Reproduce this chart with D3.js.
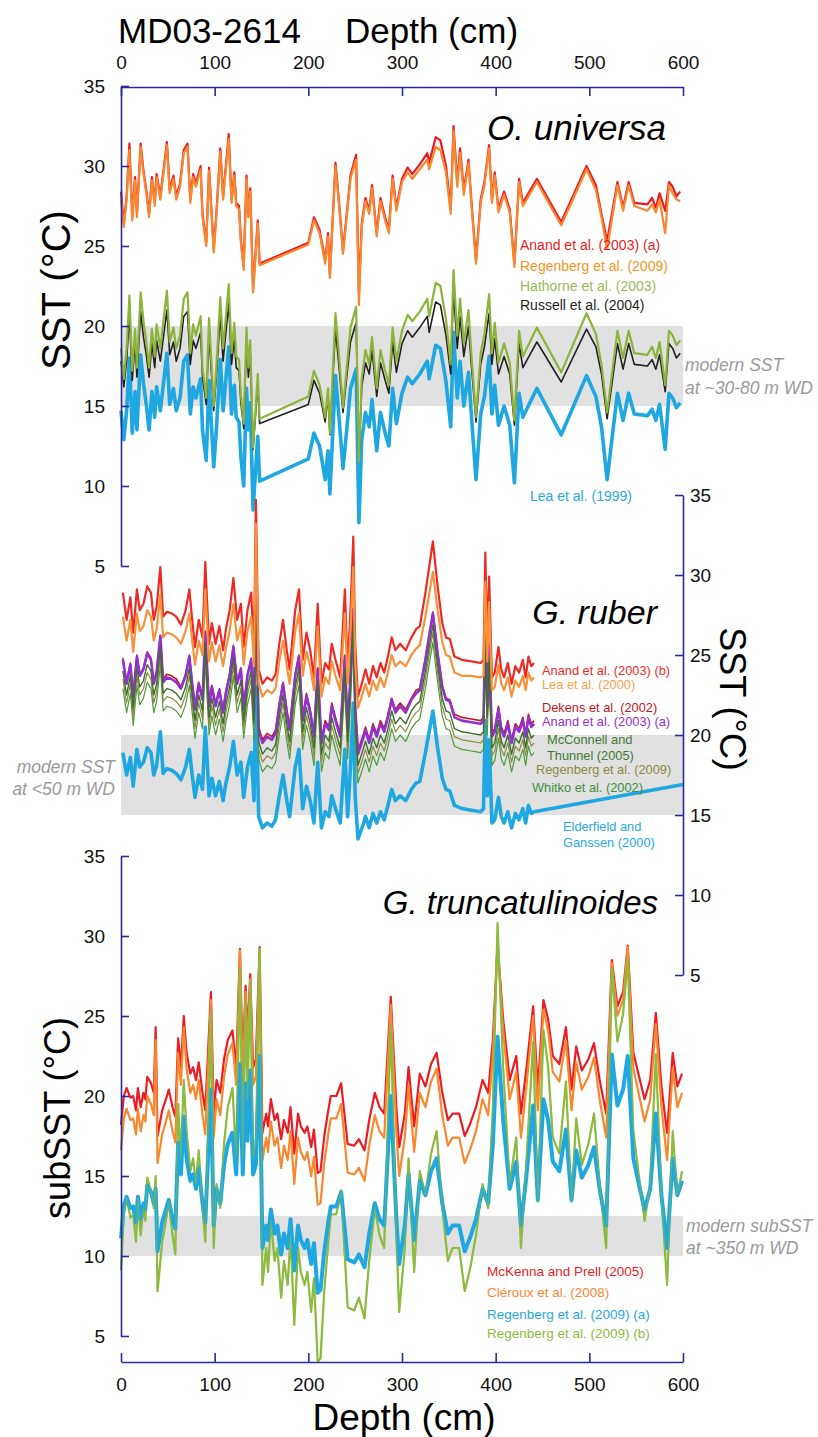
<!DOCTYPE html>
<html>
<head>
<meta charset="utf-8">
<script src="https://cdn.jsdelivr.net/npm/d3@7"></script>
<style>
  body { margin: 0; background: #fff; }
  svg { display: block; }
  text { font-family: "Liberation Sans", Arial, Helvetica, sans-serif; }
</style>
</head>
<body>
<svg id="chart" width="818" height="1437"></svg>
<script>
// ---------- Core MD03-2614: depth axis ----------
const depthTicks = [0, 100, 200, 300, 400, 500, 600];
const tempTicks = [5, 10, 15, 20, 25, 30, 35];

// ---------- O. universa (SST) ----------
const uniDepth = [0,3,6,9,12,15,17,21,24,27,30,33,36,38,42,49,52,56,59,63,67,71,74,77,80,85,87,91,94,99,102,106,109,115,118,121,123,126,128,131,134,136,138,141,146,148,200,206,212,218,221,223,229,233,237,241,245,251,254,257,261,265,268,273,277,282,286,290,294,300,306,311,319,327,329,336,341,347,352,355,359,362,366,371,374,379,384,388,393,396,399,403,409,415,420,425,429,444,470,497,507,513,519,530,536,542,548,562,567,571,575,581,585,589,593,597];
const uniAnand = [28.4,26.4,28.1,31.4,26.8,29.3,27.0,31.4,29.7,28.5,27.0,29.3,27.7,29.5,28.1,31.5,28.5,29.4,28.1,28.9,31.0,31.4,27.9,29.5,28.9,30.0,27.0,25.2,29.9,24.8,27.2,31.1,28.1,32.0,27.9,29.6,27.7,27.5,25.4,23.7,29.4,27.0,28.6,22.3,26.6,23.9,25.2,26.8,26.0,24.1,25.8,23.2,30.2,27.6,24.7,27.0,29.4,30.7,22.0,26.4,28.0,27.2,28.8,25.8,28.0,26.8,26.0,29.4,27.4,29.2,29.9,29.5,30.1,30.8,30.2,31.8,31.6,30.0,27.3,32.5,29.0,31.1,28.5,30.4,27.9,24.1,27.9,29.0,31.3,27.9,29.6,27.3,28.4,27.3,23.9,29.2,27.7,29.2,26.5,30.0,28.8,27.0,25.3,29.0,27.4,29.0,27.7,27.6,28.0,27.4,28.3,27.2,29.0,28.7,28.1,28.4];
const uniRegenberg = [27.9,26.2,27.9,31.0,26.6,29.1,26.8,31.2,29.5,28.3,26.8,29.1,27.5,29.3,27.9,31.3,28.3,29.2,27.9,28.7,30.8,31.2,27.7,29.3,28.7,29.8,26.8,25.0,29.7,24.6,27.0,30.9,27.9,31.7,27.7,29.4,27.5,27.3,25.2,23.5,29.2,26.8,28.4,22.1,26.4,23.8,25.1,26.6,25.8,23.9,25.6,23.0,30.0,27.4,24.5,26.8,29.2,30.4,21.3,26.2,27.8,27.0,28.6,25.6,27.8,26.6,25.8,29.2,27.2,29.0,29.6,29.2,29.8,30.4,29.8,31.2,31.0,29.6,27.0,32.2,28.7,30.8,28.2,30.2,27.7,23.9,27.7,28.8,31.1,27.7,29.4,27.1,28.2,27.1,23.7,29.0,27.5,29.0,26.3,29.8,28.5,26.8,24.8,28.8,27.2,28.8,27.5,27.2,27.6,27.1,27.9,25.8,28.8,28.3,27.9,27.8];
const uniHathorne = [18.6,16.7,18.6,21.9,17.2,19.8,17.4,22.1,20.3,19.0,17.4,19.8,18.1,20.1,18.6,22.2,19.0,19.9,18.6,19.4,21.7,22.1,18.3,20.1,19.4,20.6,17.4,15.5,20.5,15.0,17.6,21.8,18.6,22.6,18.3,20.2,18.1,17.9,15.7,13.9,19.9,17.4,19.1,12.4,17.0,14.2,15.6,17.2,16.3,14.3,16.1,13.3,20.8,18.0,14.9,17.4,19.9,21.2,11.5,16.7,18.5,17.6,19.3,16.1,18.5,17.2,16.3,19.9,17.8,19.7,20.7,20.3,20.9,21.7,20.6,22.7,22.5,20.4,17.6,23.5,19.4,21.7,18.9,21.0,18.3,14.3,18.3,19.5,22.0,18.3,20.2,17.7,18.9,17.7,14.1,19.7,18.1,19.9,17.1,20.8,19.5,17.6,14.6,19.7,18.0,19.7,18.3,18.2,18.7,18.0,19.0,16.3,19.7,19.4,18.8,19.1];
const uniRussell = [17.8,16.2,17.8,20.8,16.6,18.9,16.8,20.9,19.3,18.2,16.8,18.9,17.4,19.1,17.8,21.0,18.2,19.0,17.8,18.6,20.6,20.9,17.6,19.1,18.6,19.6,16.8,15.1,19.5,14.7,17.0,20.7,17.8,21.4,17.6,19.2,17.4,17.2,15.2,13.6,19.0,16.8,18.3,12.3,16.4,13.9,15.1,16.6,15.8,14.0,15.6,13.2,19.8,17.3,14.6,16.8,19.0,20.2,11.5,16.2,17.7,17.0,18.5,15.6,17.7,16.6,15.8,19.0,17.1,18.9,19.7,19.3,19.9,20.6,19.6,21.5,21.3,19.4,17.0,22.2,18.6,20.6,18.1,20.0,17.6,14.0,17.6,18.7,20.8,17.6,19.2,17.0,18.1,17.0,13.8,18.9,17.4,19.0,16.5,19.8,18.7,17.0,14.2,18.9,17.3,18.9,17.6,17.5,17.9,17.3,18.2,15.9,18.9,18.6,18.0,18.3];
const uniLea = [14.7,12.9,14.7,18.0,13.3,15.9,13.5,18.2,16.4,15.1,13.5,15.9,14.3,16.2,14.7,18.3,15.1,16.1,14.7,15.5,17.8,18.2,14.5,16.2,15.5,16.7,13.5,11.6,16.6,11.2,13.7,17.9,14.7,18.7,14.5,16.3,14.3,14.0,11.8,10.0,16.1,13.5,15.2,8.5,13.1,10.3,11.7,13.3,12.5,10.4,12.2,9.5,16.9,14.1,11.1,13.5,16.1,17.3,7.7,12.9,14.6,13.7,15.4,12.2,14.6,13.3,12.5,16.1,13.9,15.8,16.8,16.4,17.0,17.8,16.7,18.8,18.6,16.5,13.7,19.6,15.5,17.8,15.0,17.1,14.5,10.4,14.5,15.6,18.1,14.5,16.3,13.8,15.0,13.8,10.2,15.8,14.3,16.1,13.2,16.9,15.6,13.7,10.4,15.8,14.1,15.8,14.5,14.4,14.8,14.1,15.1,12.3,15.8,15.5,14.9,15.2];

// ---------- G. ruber (SST, right-hand scale) ----------
const rubDepth = [2,6,10,13,17,20,24,28,32,35,38,42,45,49,54,59,64,69,73,76,79,83,87,90,94,97,101,105,109,112,116,120,124,128,131,135,139,142,144,147,151,156,161,165,169,173,177,180,186,190,194,198,202,206,210,214,218,222,225,229,234,239,242,245,248,250,253,258,261,265,269,273,277,281,285,289,293,298,304,310,315,319,325,329,333,338,343,347,351,356,364,374,384,387,389,391,393,396,399,403,406,409,413,417,421,425,429,432,435,438,441,600];
const rubAnandB = [28.9,27.2,28.6,26.4,29.1,27.8,28.2,29.3,28.9,27.2,28.0,30.5,27.4,27.7,27.6,27.4,26.9,27.8,29.1,27.2,25.5,27.2,26.1,30.8,25.7,27.0,25.7,26.8,25.3,26.6,27.8,29.8,27.2,28.2,25.5,27.8,28.9,25.3,34.7,24.1,23.2,23.6,23.4,23.8,25.7,27.2,25.3,24.1,27.8,29.1,24.7,26.4,25.3,23.6,28.2,23.2,24.5,24.1,25.7,24.7,23.6,29.1,24.1,27.8,32.4,25.7,22.4,23.4,24.1,23.2,24.3,23.6,24.5,23.9,24.9,26.1,25.3,25.7,25.3,26.1,26.6,26.8,28.9,30.5,32.1,29.3,27.0,26.1,26.0,24.9,24.7,24.6,24.5,24.7,31.4,25.7,29.9,23.6,23.9,25.5,24.1,23.6,24.5,23.2,24.3,23.9,24.7,23.6,24.9,24.3,24.5];
const rubLea = [27.4,25.9,27.2,25.2,27.6,26.5,26.8,27.8,27.4,25.9,26.6,28.8,26.1,26.4,26.3,26.1,25.7,26.5,27.6,25.9,24.4,25.9,25.0,29.1,24.6,25.8,24.6,25.6,24.3,25.4,26.5,28.2,25.9,26.8,24.4,26.5,27.4,24.3,33.2,23.2,22.4,22.8,22.6,22.9,24.6,25.9,24.3,23.2,26.5,27.6,23.7,25.2,24.3,22.8,26.8,22.4,23.6,23.2,24.6,23.7,22.8,27.6,23.2,26.5,30.5,24.6,21.7,22.6,23.2,22.4,23.4,22.8,23.6,23.0,23.9,25.0,24.3,24.6,24.3,25.0,25.4,25.6,27.4,28.8,30.2,27.8,25.8,25.0,24.9,23.9,23.7,23.7,23.6,23.7,29.6,24.6,28.3,22.8,23.0,24.4,23.2,22.8,23.6,22.4,23.4,23.0,23.7,22.8,23.9,23.4,23.6];
const rubDekens = [24.8,23.3,24.5,22.6,25.0,23.8,24.2,25.2,24.8,23.3,24.0,26.2,23.5,23.8,23.7,23.5,23.0,23.8,25.0,23.3,21.8,23.3,22.3,26.5,22.0,23.1,22.0,22.9,21.6,22.8,23.8,25.6,23.3,24.2,21.8,23.8,24.8,21.6,30.0,20.5,19.7,20.1,19.9,20.3,22.0,23.3,21.6,20.5,23.8,25.0,21.1,22.6,21.6,20.1,24.2,19.7,20.9,20.5,22.0,21.1,20.1,25.0,20.5,23.8,27.9,22.0,19.0,19.9,20.5,19.7,20.7,20.1,20.9,20.4,21.3,22.3,21.6,22.0,21.6,22.3,22.8,22.9,24.8,26.2,27.7,25.2,23.1,22.3,22.2,21.3,21.1,21.0,20.9,21.1,27.0,22.0,25.7,20.1,20.4,21.8,20.5,20.1,20.9,19.7,20.7,20.4,21.1,20.1,21.3,20.7,20.9];
const rubAnandA = [24.7,23.2,24.4,22.4,24.9,23.7,24.1,25.1,24.7,23.2,23.9,26.2,23.3,23.6,23.5,23.3,22.9,23.7,24.9,23.2,21.6,23.2,22.2,26.4,21.8,23.0,21.8,22.8,21.4,22.6,23.7,25.5,23.2,24.1,21.6,23.7,24.7,21.4,30.0,20.3,19.5,19.9,19.7,20.1,21.8,23.2,21.4,20.3,23.7,24.9,20.9,22.4,21.4,19.9,24.1,19.5,20.7,20.3,21.8,20.9,19.9,24.9,20.3,23.7,27.9,21.8,18.8,19.7,20.3,19.5,20.5,19.9,20.7,20.2,21.1,22.2,21.4,21.8,21.4,22.2,22.6,22.8,24.7,26.2,27.6,25.1,23.0,22.2,22.1,21.1,20.9,20.8,20.7,20.9,27.0,21.8,25.6,19.9,20.2,21.6,20.3,19.9,20.7,19.5,20.5,20.2,20.9,19.9,21.1,20.5,20.7];
const rubMcConnell = [24.0,22.5,23.7,21.7,24.2,23.0,23.4,24.4,24.0,22.5,23.2,25.5,22.6,22.9,22.8,22.6,22.2,23.0,24.2,22.5,20.9,22.5,21.5,25.7,21.1,22.3,21.1,22.1,20.7,21.9,23.0,24.8,22.5,23.4,20.9,23.0,24.0,20.7,30.3,19.6,18.8,19.2,19.0,19.4,21.1,22.5,20.7,19.6,23.0,24.2,20.2,21.7,20.7,19.2,23.4,18.8,20.0,19.6,21.1,20.2,19.2,24.2,19.6,23.0,27.2,21.1,18.1,19.0,19.6,18.8,19.8,19.2,20.0,19.5,20.4,21.5,20.7,21.1,20.7,21.5,21.9,22.1,24.0,25.5,26.9,24.4,22.3,21.5,21.4,20.4,20.2,20.1,20.0,20.2,26.3,21.1,24.9,19.2,19.5,20.9,19.6,19.2,20.0,18.8,19.8,19.5,20.2,19.2,20.4,19.8,20.0];
const rubRegenberg = [23.5,22.0,23.2,21.2,23.7,22.5,22.9,23.9,23.5,22.0,22.7,25.0,22.1,22.4,22.3,22.1,21.7,22.5,23.7,22.0,20.4,22.0,21.0,25.2,20.6,21.8,20.6,21.6,20.2,21.4,22.5,24.3,22.0,22.9,20.4,22.5,23.5,20.2,29.5,19.1,18.3,18.7,18.5,18.9,20.6,22.0,20.2,19.1,22.5,23.7,19.7,21.2,20.2,18.7,22.9,18.3,19.5,19.1,20.6,19.7,18.7,23.7,19.1,22.5,26.7,20.6,17.6,18.5,19.1,18.3,19.3,18.7,19.5,19.0,19.9,21.0,20.2,20.6,20.2,21.0,21.4,21.6,23.5,25.0,26.4,23.9,21.8,21.0,20.9,19.9,19.7,19.6,19.5,19.7,25.8,20.6,24.4,18.7,19.0,20.4,19.1,18.7,19.5,18.3,19.3,19.0,19.7,18.7,19.9,19.3,19.5];
const rubWhitko = [22.9,21.4,22.6,20.6,23.1,21.9,22.3,23.3,22.9,21.4,22.1,24.4,21.5,21.8,21.7,21.5,21.1,21.9,23.1,21.4,19.8,21.4,20.4,24.6,20.0,21.2,20.0,21.0,19.6,20.8,21.9,23.7,21.4,22.3,19.8,21.9,22.9,19.6,28.8,18.5,17.7,18.1,17.9,18.3,20.0,21.4,19.6,18.5,21.9,23.1,19.1,20.6,19.6,18.1,22.3,17.7,18.9,18.5,20.0,19.1,18.1,23.1,18.5,21.9,26.1,20.0,17.0,17.9,18.5,17.7,18.7,18.1,18.9,18.4,19.3,20.4,19.6,20.0,19.6,20.4,20.8,21.0,22.9,24.4,25.8,23.3,21.2,20.4,20.3,19.3,19.1,19.0,18.9,19.1,25.2,20.0,23.8,18.1,18.4,19.8,18.5,18.1,18.9,17.7,18.7,18.4,19.1,18.1,19.3,18.7,18.9];
const rubElderfield = [18.9,17.5,18.6,16.8,19.1,18.0,18.3,19.2,18.9,17.5,18.1,20.2,17.6,17.9,17.8,17.6,17.2,18.0,19.1,17.5,16.1,17.5,16.6,20.5,16.2,17.3,16.2,17.1,15.9,17.0,18.0,19.6,17.5,18.3,16.1,18.0,18.9,15.9,23.0,14.9,14.2,14.5,14.3,14.7,16.2,17.5,15.9,14.9,18.0,19.1,15.4,16.8,15.9,14.5,18.3,14.2,15.2,14.9,16.2,15.4,14.5,19.1,14.9,18.0,22.0,16.2,13.5,14.3,14.9,14.2,15.1,14.5,15.2,14.7,15.6,16.6,15.9,16.2,15.9,16.6,17.0,17.1,18.9,20.2,21.5,19.2,17.3,16.6,16.5,15.6,15.4,15.3,15.2,15.4,20.9,16.2,19.7,14.5,14.7,16.1,14.9,14.5,15.2,14.2,15.1,14.7,15.4,14.5,15.6,15.1,15.2,16.9];

// ---------- G. truncatulinoides (subSST) ----------
const truDepth = [0,3,6,10,13,16,18,21,24,26,28,32,35,37,39,44,48,51,55,58,61,64,67,70,74,77,80,83,87,90,96,99,102,106,110,114,119,123,127,130,133,135,138,141,144,148,151,155,157,160,164,167,171,174,178,181,185,189,192,196,199,203,206,210,213,217,221,224,230,235,242,249,254,260,265,271,276,281,288,294,297,303,307,313,319,325,331,337,343,349,354,361,367,373,379,386,392,397,402,408,415,422,427,433,440,445,451,456,461,468,475,481,486,492,499,505,511,518,524,530,536,541,547,554,559,565,571,577,583,589,594,599];
const truMcKenna = [18.2,20.0,20.5,19.9,20.0,19.1,20.5,19.3,20.2,19.8,21.2,20.8,20.2,24.3,17.5,19.1,19.8,20.4,19.3,18.7,23.6,21.8,25.0,22.7,21.4,21.8,21.0,22.1,20.2,19.1,26.5,18.9,21.0,20.2,22.3,23.5,24.1,21.8,29.2,21.8,26.9,23.7,27.6,21.8,22.3,29.3,17.7,18.9,18.1,19.8,18.5,18.9,17.3,18.5,17.7,19.3,16.4,18.9,18.1,17.7,18.1,16.8,17.9,15.2,15.3,17.5,19.0,20.0,20.0,20.8,17.0,16.9,17.3,16.6,18.5,20.2,19.3,18.9,26.2,19.3,16.8,18.9,21.8,18.1,21.4,20.6,22.0,22.7,20.2,18.5,18.9,18.9,17.5,18.3,19.3,21.0,20.2,23.5,29.5,24.8,21.0,22.5,18.9,21.8,25.6,20.4,26.0,24.8,22.5,22.0,24.3,20.4,23.1,21.6,22.3,23.3,21.0,18.9,28.5,25.6,26.5,29.4,22.7,21.0,19.8,21.0,25.2,20.6,17.7,22.7,20.6,21.4];
const truCleroux = [16.6,18.6,19.2,18.5,18.6,17.6,19.2,17.8,18.8,18.4,20.0,19.5,18.8,23.5,15.8,17.6,18.4,19.1,17.8,17.1,22.7,20.7,24.3,21.7,20.2,20.7,19.8,21.0,18.8,17.6,26.0,17.4,19.8,18.8,21.2,22.6,23.3,20.7,29.1,20.7,26.5,22.8,27.3,20.7,21.2,29.2,16.0,17.4,16.5,18.4,16.9,17.4,15.5,16.9,16.0,17.8,14.5,17.4,16.5,16.0,16.5,15.0,16.2,13.2,13.3,15.8,17.5,18.6,18.6,19.5,15.2,15.1,15.5,14.7,16.9,18.8,17.8,17.4,25.7,17.8,15.0,17.4,20.7,16.5,20.2,19.3,20.9,21.7,18.8,16.9,17.4,17.4,15.8,16.7,17.8,19.8,18.8,22.6,29.4,24.1,19.8,21.5,17.4,20.7,25.0,19.1,25.4,24.1,21.5,20.9,23.5,19.1,22.1,20.4,21.2,22.4,19.8,17.4,28.3,25.0,26.0,29.3,21.7,19.8,18.4,19.8,24.5,19.3,16.0,21.7,19.3,20.2];
const truRegenbergA = [11.1,13.1,13.7,13.0,13.1,12.1,13.7,12.3,13.3,12.9,14.4,14.0,13.3,14.2,10.3,12.1,12.9,13.5,12.3,11.7,17.1,15.1,18.7,16.1,14.7,15.1,14.2,15.5,13.3,12.1,20.4,11.9,14.2,13.3,15.7,17.0,17.7,15.1,22.0,15.1,20.8,17.2,21.6,15.1,15.7,22.5,10.5,11.9,11.0,12.9,11.4,11.9,10.1,11.4,10.5,12.3,9.1,11.9,11.0,10.5,11.0,9.5,10.8,7.7,7.9,10.3,12.0,13.1,13.1,14.0,9.8,9.6,10.1,9.3,11.4,13.3,12.3,11.9,20.0,12.3,9.5,11.9,15.1,11.0,14.7,13.8,15.3,16.1,13.3,11.4,11.9,11.9,10.3,11.2,12.3,14.2,13.3,17.0,23.7,18.5,14.2,15.9,11.9,15.1,19.4,13.5,19.8,18.5,15.9,15.3,17.9,13.5,16.6,14.9,15.7,16.8,14.2,11.9,22.6,19.4,20.4,22.5,16.1,14.2,12.9,14.2,18.9,13.8,10.5,16.1,13.8,14.7];
const truRegenbergB = [9.1,12.6,13.6,12.4,12.6,10.9,13.6,11.3,13.0,12.2,14.9,14.1,13.0,15.0,7.8,10.9,12.2,13.4,11.3,10.1,19.5,16.1,21.0,17.8,15.3,16.1,14.5,16.6,13.0,10.9,25.1,10.5,14.5,13.0,17.0,19.3,20.5,16.1,28.0,16.1,25.9,19.7,27.2,16.1,17.0,29.2,8.2,10.5,9.0,12.2,9.7,10.5,7.4,9.7,8.2,11.3,5.7,10.5,9.0,8.2,9.0,6.5,8.6,3.4,3.6,7.8,10.7,12.6,12.6,14.1,6.8,6.6,7.4,6.1,9.7,13.0,11.3,10.5,24.5,11.3,6.5,10.5,16.1,9.0,15.3,13.8,16.4,17.8,13.0,9.7,10.5,10.5,7.8,9.3,11.3,14.5,13.0,19.3,30.8,21.8,14.5,17.4,10.5,16.1,23.4,13.4,24.1,21.8,17.4,16.4,20.9,13.4,18.6,15.7,17.0,18.9,14.5,10.5,28.0,23.4,25.1,28.6,17.8,14.5,12.2,14.5,22.6,13.8,8.2,17.8,13.8,15.3];

// ---------- Modern temperature ranges ----------
const uniModern = [15, 20];
const rubModern = [15, 20];
const truModern = [10, 12.5];

// ---------- Drawing ----------
const svg = d3.select("#chart");
const axisColor = "#2a2a9c";

const x = d3.scaleLinear().domain([0, 600]).range([121, 683]);
const yUni = d3.scaleLinear().domain([5, 35]).range([566, 86]);
const yRub = d3.scaleLinear().domain([5, 35]).range([975, 495]);
const yTru = d3.scaleLinear().domain([5, 35]).range([1336, 856]);

// shaded bands (drawn first, beneath the records)
function band(ys, range) {
  svg.append("rect")
    .attr("x", x(0)).attr("width", x(600) - x(0))
    .attr("y", ys(range[1])).attr("height", ys(range[0]) - ys(range[1]))
    .attr("fill", "#e1e1e1");
}
band(yUni, uniModern);
band(yRub, rubModern);
band(yTru, truModern);

function series(depth, values, ys, color, width, opacity) {
  const pts = depth.map((d, i) => [d, values[i]]);
  const line = d3.line()
    .defined(p => p[1] !== undefined && p[1] !== null)
    .x(p => x(p[0])).y(p => ys(p[1]));
  svg.append("path")
    .datum(pts)
    .attr("d", line)
    .attr("fill", "none")
    .attr("stroke", color)
    .attr("stroke-width", width)
    .attr("stroke-linejoin", "round")
    .attr("stroke-opacity", opacity || 1);
}

// O. universa
series(uniDepth, uniLea, yUni, "#1ea7e1", 3.6);
series(uniDepth, uniRussell, yUni, "#231f20", 1.6);
series(uniDepth, uniHathorne, yUni, "#8db33c", 2.2);
series(uniDepth, uniAnand, yUni, "#ec1c24", 2.2);
series(uniDepth, uniRegenberg, yUni, "#f7882f", 2.2);

// G. ruber
series(rubDepth, rubElderfield, yRub, "#1ea7e1", 3.6);
series(rubDepth, rubWhitko, yRub, "#4f9a3a", 1.2);
series(rubDepth, rubRegenberg, yRub, "#8c8a44", 1.2);
series(rubDepth, rubDekens, yRub, "#c4161c", 1.6);
series(rubDepth, rubAnandA, yRub, "#9331cf", 2.6);
series(rubDepth, rubMcConnell, yRub, "#3d6e2e", 1.4);
series(rubDepth, rubAnandB, yRub, "#ee2a24", 2.2);
series(rubDepth, rubLea, yRub, "#f7923a", 2.2);

// G. truncatulinoides
series(truDepth, truMcKenna, yTru, "#ec1c24", 2.2);
series(truDepth, truCleroux, yTru, "#f7882f", 2.2);
series(truDepth, truRegenbergB, yTru, "#8dbb3f", 2.2);
series(truDepth, truRegenbergA, yTru, "#1ea7e1", 4);
series(truDepth, truRegenbergB, yTru, "#8dbb3f", 1.4, 0.55);

// ---------- Axes ----------
function styleAxis(g, size) {
  g.select(".domain").attr("stroke", axisColor).attr("stroke-width", 1.6);
  g.selectAll(".tick line").attr("stroke", axisColor).attr("stroke-width", 1.6);
  g.selectAll(".tick text").attr("fill", "#111").style("font-size", size + "px")
    .style("font-family", '"Liberation Sans", Arial, sans-serif');
}

// top depth axis
svg.append("g").attr("transform", "translate(0,87)")
  .call(d3.axisTop(x).tickValues(depthTicks).tickFormat(d3.format("d"))
    .tickSizeInner(-9).tickSizeOuter(0).tickPadding(18))
  .call(g => styleAxis(g, 19));

// bottom depth axis
svg.append("g").attr("transform", "translate(0,1362)")
  .call(d3.axisBottom(x).tickValues(depthTicks).tickFormat(d3.format("d"))
    .tickSizeInner(-9).tickSizeOuter(0).tickPadding(16))
  .call(g => styleAxis(g, 19));

// O. universa temperature axis (left)
svg.append("g").attr("transform", `translate(${x(0)},0)`)
  .call(d3.axisLeft(yUni).tickValues(tempTicks).tickFormat(d3.format("d"))
    .tickSizeInner(-8).tickSizeOuter(0).tickPadding(16))
  .call(g => styleAxis(g, 19));

// G. ruber temperature axis (right)
svg.append("g").attr("transform", `translate(${x(600)},0)`)
  .call(d3.axisRight(yRub).tickValues(tempTicks).tickFormat(d3.format("d"))
    .tickSizeInner(-8).tickSizeOuter(0).tickPadding(7))
  .call(g => styleAxis(g, 19));

// G. truncatulinoides temperature axis (left)
svg.append("g").attr("transform", `translate(${x(0)},0)`)
  .call(d3.axisLeft(yTru).tickValues(tempTicks).tickFormat(d3.format("d"))
    .tickSizeInner(-8).tickSizeOuter(0).tickPadding(16))
  .call(g => styleAxis(g, 19));

// ---------- Titles and labels ----------
function label(t, px, py, opts) {
  const o = Object.assign({ size: 14, color: "#000", anchor: "start", italic: false, rotate: 0 }, opts);
  svg.append("text")
    .attr("transform", `translate(${px},${py}) rotate(${o.rotate})`)
    .attr("text-anchor", o.anchor)
    .attr("fill", o.color)
    .style("font-size", o.size + "px")
    .style("font-style", o.italic ? "italic" : "normal")
    .text(t);
}

label("MD03-2614", 118, 43, { size: 35 });
label("Depth (cm)", 345, 43, { size: 35 });
label("Depth (cm)", 404, 1430, { size: 37, anchor: "middle" });

label("SST (°C)", 70, 290, { size: 40, anchor: "middle", rotate: -90 });
label("subSST (°C)", 70, 1118, { size: 36, anchor: "middle", rotate: -90 });
label("SST (°C)", 720, 699, { size: 36, anchor: "middle", rotate: 90 });

label("O. universa", 666, 140, { size: 35, anchor: "end", italic: true });
label("G. ruber", 657, 624, { size: 34, anchor: "end", italic: true });
label("G. truncatulinoides", 658, 914, { size: 33, anchor: "end", italic: true });

// modern temperature notes
const grey = "#9a9a9a";
label("modern SST", 685, 371, { size: 17.5, color: grey, italic: true });
label("at ~30-80 m WD", 685, 394, { size: 17.5, color: grey, italic: true });
label("modern SST", 115, 773, { size: 17.5, color: grey, italic: true, anchor: "end" });
label("at <50 m WD", 115, 795, { size: 17.5, color: grey, italic: true, anchor: "end" });
label("modern subSST", 686, 1232, { size: 17.5, color: grey, italic: true });
label("at ~350 m WD", 686, 1254, { size: 17.5, color: grey, italic: true });

// O. universa legend
label("Anand et al. (2003) (a)", 520, 250, { size: 14, color: "#ec1c24" });
label("Regenberg et al. (2009)", 520, 271, { size: 14, color: "#f7941d" });
label("Hathorne et al. (2003)", 520, 291, { size: 14, color: "#9bbb59" });
label("Russell et al. (2004)", 520, 310, { size: 14, color: "#231f20" });
label("Lea et al. (1999)", 530, 501, { size: 14, color: "#29a8e0" });

// G. ruber legend
label("Anand et al. (2003) (b)", 542, 675, { size: 12.8, color: "#ee2a24" });
label("Lea et al. (2000)", 542, 689, { size: 12.8, color: "#f7a04a" });
label("Dekens et al. (2002)", 542, 712, { size: 12.8, color: "#c4161c" });
label("Anand et al. (2003) (a)", 542, 726, { size: 12.8, color: "#9331cf" });
label("McConnell and", 547, 744, { size: 12.8, color: "#3d7a36" });
label("Thunnel (2005)", 547, 760, { size: 12.8, color: "#3d7a36" });
label("Regenberg et al. (2009)", 536, 774, { size: 12.8, color: "#8c8a44" });
label("Whitko et al. (2002)", 532, 792, { size: 12.8, color: "#3e8e41" });
label("Elderfield and", 563, 831, { size: 12.8, color: "#29a8e0" });
label("Ganssen (2000)", 563, 847, { size: 12.8, color: "#29a8e0" });

// G. truncatulinoides legend
label("McKenna and Prell (2005)", 487, 1276, { size: 13.5, color: "#ec1c24" });
label("Cléroux et al. (2008)", 487, 1297, { size: 13.5, color: "#f7882f" });
label("Regenberg et al. (2009) (a)", 487, 1319, { size: 13.5, color: "#29a8e0" });
label("Regenberg et al. (2009) (b)", 487, 1338, { size: 13.5, color: "#8dbb3f" });
</script>
</body>
</html>
